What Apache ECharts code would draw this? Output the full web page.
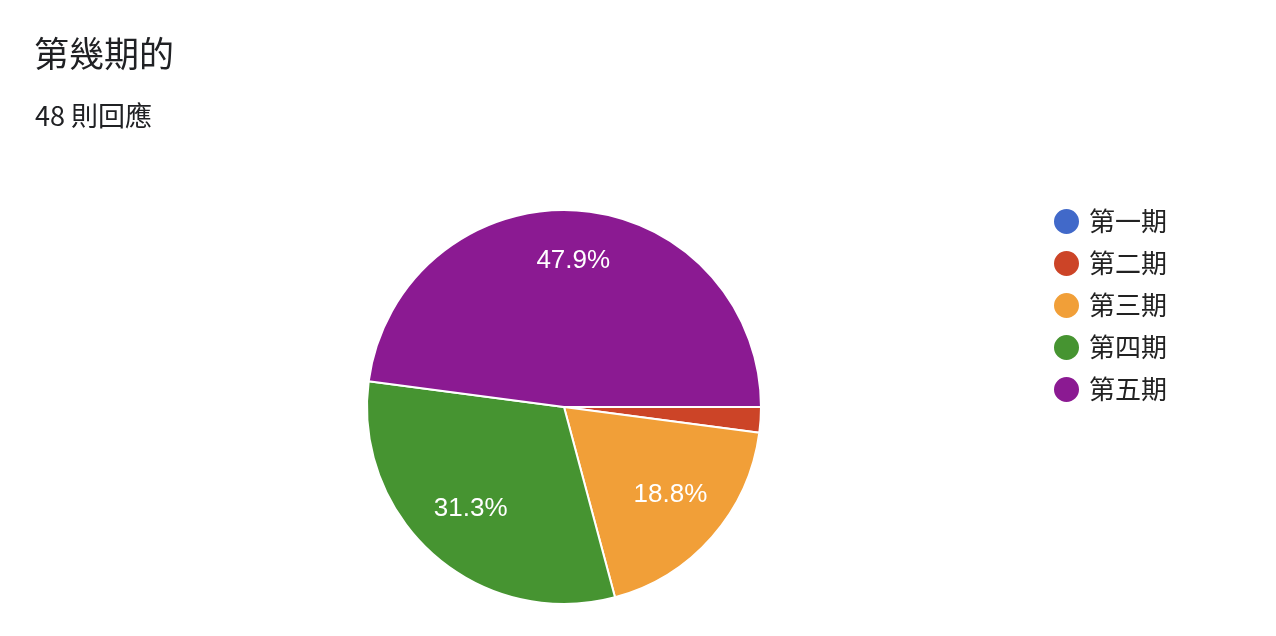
<!DOCTYPE html>
<html>
<head>
<meta charset="utf-8">
<script src="https://cdn.jsdelivr.net/npm/echarts@6/dist/echarts.min.js"></script>
<style>
html,body{margin:0;padding:0;background:#fff;}
#chart{width:1276px;height:636px;}
</style>
</head>
<body>
<div id="chart"></div>
<script>
const titleText = '第幾期的';
const subtitleText = '48 則回應';
const categories = ['第一期', '第二期', '第三期', '第四期', '第五期'];
const values = [0, 1, 9, 15, 23];
const colors = ['#4169c9', '#cc4427', '#f19f38', '#469431', '#8b1a92'];

const total = values.reduce((a, b) => a + b, 0);
const data = categories.map((n, i) => ({ name: n, value: values[i] }));

const chart = echarts.init(document.getElementById('chart'));
const cjk = '"Noto Sans CJK TC", "Noto Sans", sans-serif';
chart.setOption({
  animation: false,
  backgroundColor: '#ffffff',
  color: colors,
  title: [
    { text: titleText, left: 29, top: 31,
      textStyle: { fontFamily: cjk, fontSize: 35, fontWeight: 'normal', color: '#202124' } },
    { text: subtitleText, left: 30, top: 97,
      textStyle: { fontFamily: cjk, fontSize: 27, fontWeight: 'normal', color: '#202124' } }
  ],
  legend: {
    orient: 'vertical',
    left: 1047,
    top: 202,
    icon: 'circle',
    itemWidth: 27,
    itemHeight: 27,
    itemGap: 13,
    data: categories,
    textStyle: { fontFamily: cjk, fontSize: 26, color: '#222222', padding: [0, 0, 0, 4] }
  },
  series: [
    {
      type: 'pie',
      center: [564, 407],
      radius: [0, 197],
      startAngle: 0,
      clockwise: true,
      avoidLabelOverlap: false,
      silent: true,
      data: data,
      itemStyle: { borderColor: '#ffffff', borderWidth: 2 },
      label: { show: false },
      labelLine: { show: false }
    },
    {
      type: 'pie',
      center: [564, 407],
      radius: [80, 197],
      startAngle: 0,
      clockwise: true,
      avoidLabelOverlap: false,
      silent: true,
      legendHoverLink: false,
      data: data,
      itemStyle: { color: 'rgba(0,0,0,0)', borderWidth: 0 },
      label: {
        show: true,
        position: 'inside',
        color: '#ffffff',
        offset: [0, -5],
        fontFamily: '"Liberation Sans", Arial, sans-serif',
        fontSize: 26,
        formatter: p => (p.value / total >= 0.05 ? (p.value / total * 100).toFixed(1) + '%' : '')
      },
      labelLine: { show: false }
    }
  ]
});
</script>
</body>
</html>
